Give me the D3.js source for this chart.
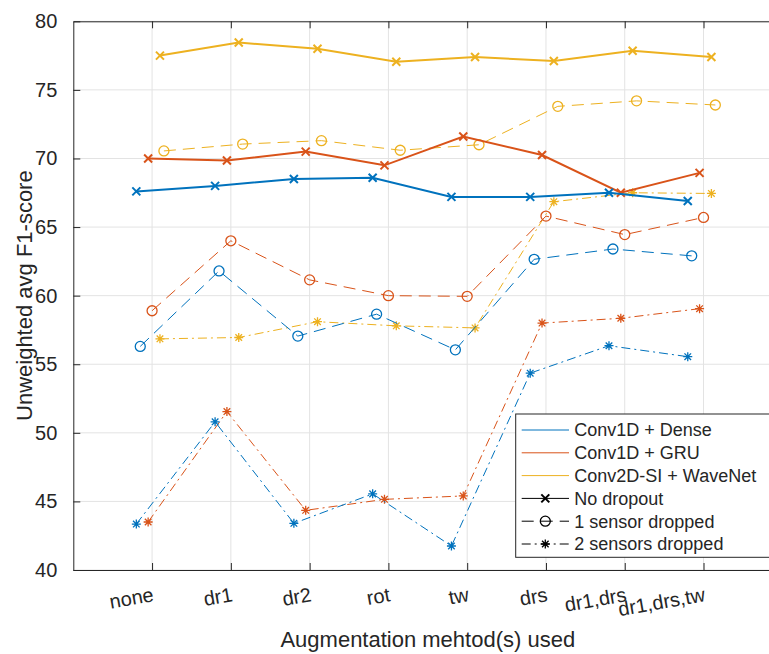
<!DOCTYPE html>
<html>
<head>
<meta charset="utf-8">
<script src="https://cdn.jsdelivr.net/npm/d3@7"></script>
<style>
  body { margin: 0; background: #fff; }
  svg text { font-family: "Liberation Sans", Arial, Helvetica, sans-serif; fill: #262626; }
</style>
</head>
<body>
<div id="chart"></div>
<script>
/************ Data ************/
var categories = ["none", "dr1", "dr2", "rot", "tw", "drs", "dr1,drs", "dr1,drs,tw"];
var models = ["Conv1D + Dense", "Conv1D + GRU", "Conv2D-SI + WaveNet"];
var dropouts = ["No dropout", "1 sensor dropped", "2 sensors dropped"];
var yTicks = [40, 45, 50, 55, 60, 65, 70, 75, 80];

// no dropout
var denseNoDrop = [67.6, 68.0, 68.5, 68.6, 67.2, 67.2, 67.5, 66.9];
var gruNoDrop   = [70.0, 69.85, 70.5, 69.5, 71.6, 70.25, 67.5, 68.95];
var waveNoDrop  = [77.5, 78.45, 78.0, 77.05, 77.4, 77.1, 77.85, 77.4];
// 1 sensor dropped
var denseOne = [56.3, 61.8, 57.05, 58.65, 56.05, 62.65, 63.4, 62.9];
var gruOne   = [58.9, 64.0, 61.15, 60.0, 59.95, 65.8, 64.45, 65.7];
var waveOne  = [70.55, 71.05, 71.3, 70.6, 71.0, 73.8, 74.2, 73.9];
// 2 sensors dropped
var denseTwo = [43.35, 50.8, 43.4, 45.55, 41.75, 54.35, 56.35, 55.55];
var gruTwo   = [43.5, 51.55, 44.35, 45.15, 45.4, 58.0, 58.35, 59.05];
var waveTwo  = [56.85, 56.95, 58.1, 57.8, 57.65, 66.85, 67.5, 67.45];

// horizontal shift of each series, in category units
var shiftNoDrop = [-0.2, -0.05, 0.1];
var shiftOne    = [-0.15, 0, 0.15];
var shiftTwo    = [-0.2, -0.05, 0.1];

/************ Styles ************/
var modelColors = ["#0072BD", "#D95319", "#EDB120"];
var chartWidth = 769, chartHeight = 654;
var plotLeft = 73.3, plotTop = 21.3, plotBottom = 570, plotRight = 782.3;
var axisColor = "#262626", gridColor = "#e3e3e3";

var dropStyles = [
  { dash: null,      lw: 2, marker: "x" },
  { dash: "12,7",    lw: 1, marker: "o" },
  { dash: "9,4,2,4", lw: 1, marker: "*" }
];

var series = [
  { values: waveTwo,   model: 2, drop: 2, shift: shiftTwo[2] },
  { values: gruTwo,    model: 1, drop: 2, shift: shiftTwo[1] },
  { values: denseTwo,  model: 0, drop: 2, shift: shiftTwo[0] },
  { values: waveOne,   model: 2, drop: 1, shift: shiftOne[2] },
  { values: gruOne,    model: 1, drop: 1, shift: shiftOne[1] },
  { values: denseOne,  model: 0, drop: 1, shift: shiftOne[0] },
  { values: waveNoDrop,  model: 2, drop: 0, shift: shiftNoDrop[2] },
  { values: gruNoDrop,   model: 1, drop: 0, shift: shiftNoDrop[1] },
  { values: denseNoDrop, model: 0, drop: 0, shift: shiftNoDrop[0] }
];

/************ Scales ************/
var x = d3.scaleLinear().domain([0, categories.length + 1]).range([plotLeft, plotRight]);
var y = d3.scaleLinear().domain([40, 80]).range([plotBottom, plotTop]);

function xPos(i, shift) { return x(i + 1 + shift); }

var svg = d3.select("#chart").append("svg")
  .attr("width", chartWidth)
  .attr("height", chartHeight)
  .style("display", "block");

svg.append("rect").attr("width", chartWidth).attr("height", chartHeight).attr("fill", "#fff");

// grid
var grid = svg.append("g");
grid.selectAll(".gy").data(yTicks).enter().append("line")
  .attr("x1", plotLeft).attr("x2", plotRight)
  .attr("y1", function(d) { return y(d); }).attr("y2", function(d) { return y(d); })
  .attr("stroke", gridColor).attr("stroke-width", 1);
grid.selectAll(".gx").data(categories).enter().append("line")
  .attr("x1", function(d, i) { return x(i + 1); }).attr("x2", function(d, i) { return x(i + 1); })
  .attr("y1", plotTop).attr("y2", plotBottom)
  .attr("stroke", gridColor).attr("stroke-width", 1);

/************ Axes ************/
var catIdx = categories.map(function(d, i) { return i + 1; });

var yAxis = svg.append("g")
  .attr("transform", "translate(" + plotLeft + ",0)")
  .call(d3.axisLeft(y).tickValues(yTicks).tickSizeInner(-7).tickSizeOuter(0).tickPadding(16));
yAxis.selectAll("text").attr("font-size", "20px").attr("fill", axisColor);

var xAxis = svg.append("g")
  .attr("transform", "translate(0," + plotBottom + ")")
  .call(d3.axisBottom(x).tickValues(catIdx).tickSizeInner(-7).tickSizeOuter(0)
    .tickFormat(function(d) { return categories[d - 1]; }));
xAxis.selectAll("text")
  .attr("font-size", "20px")
  .attr("text-anchor", "end")
  .attr("x", 2).attr("y", 31).attr("dy", null)
  .attr("transform", "rotate(-10,2,31)");

var topAxis = svg.append("g")
  .attr("transform", "translate(0," + plotTop + ")")
  .call(d3.axisTop(x).tickValues(catIdx).tickSizeInner(-7).tickSizeOuter(0).tickFormat(""));

svg.selectAll(".domain").attr("stroke", axisColor).attr("stroke-width", 1);
svg.selectAll(".tick line").attr("stroke", axisColor).attr("stroke-width", 1);

/************ Markers ************/
function drawMarker(g, type, color, cx, cy) {
  if (type === "o") {
    g.append("circle").attr("cx", cx).attr("cy", cy).attr("r", 5)
      .attr("fill", "none").attr("stroke", color).attr("stroke-width", 1.3);
  } else if (type === "x") {
    g.append("path").attr("transform", "translate(" + cx + "," + cy + ")")
      .attr("d", "M-4,-4L4,4M-4,4L4,-4")
      .attr("stroke", color).attr("stroke-width", 2).attr("fill", "none");
  } else {
    g.append("path").attr("transform", "translate(" + cx + "," + cy + ")")
      .attr("d", "M-4.5,0L4.5,0M0,-4.5L0,4.5M-3.3,-3.3L3.3,3.3M-3.3,3.3L3.3,-3.3")
      .attr("stroke", color).attr("stroke-width", 1.3).attr("fill", "none");
  }
}

/************ Series ************/
var line = d3.line();
var plot = svg.append("g");

series.forEach(function(s) {
  var color = modelColors[s.model];
  var st = dropStyles[s.drop];
  var pts = s.values.map(function(v, i) { return [xPos(i, s.shift), y(v)]; });
  plot.append("path")
    .attr("d", line(pts))
    .attr("fill", "none")
    .attr("stroke", color)
    .attr("stroke-width", st.lw)
    .attr("stroke-dasharray", st.dash);
  pts.forEach(function(p) { drawMarker(plot, st.marker, color, p[0], p[1]); });
});

/************ Labels ************/
svg.append("text")
  .attr("x", (plotLeft + plotRight) / 2)
  .attr("y", 647)
  .attr("text-anchor", "middle")
  .attr("font-size", "22px")
  .text("Augmentation mehtod(s) used");

svg.append("text")
  .attr("transform", "translate(32," + ((plotTop + plotBottom) / 2) + ") rotate(-90)")
  .attr("text-anchor", "middle")
  .attr("font-size", "22px")
  .text("Unweighted avg F1-score");

/************ Legend ************/
var legend = svg.append("g").attr("transform", "translate(515.7,414)");
legend.append("rect")
  .attr("width", 300).attr("height", 143.3)
  .attr("fill", "#fff").attr("stroke", axisColor).attr("stroke-width", 1);

var legendRows = models.map(function(m, i) { return { label: m, color: modelColors[i], style: null }; })
  .concat(dropouts.map(function(d, i) { return { label: d, color: "#000", style: dropStyles[i] }; }));

legendRows.forEach(function(r, i) {
  var ry = 16 + i * 22.8;
  legend.append("line")
    .attr("x1", 6).attr("x2", 53.3).attr("y1", ry).attr("y2", ry)
    .attr("stroke", r.color).attr("stroke-width", 1)
    .attr("stroke-dasharray", r.style ? r.style.dash : null);
  if (r.style) drawMarker(legend, r.style.marker, r.color, 29.6, ry);
  legend.append("text")
    .attr("x", 58.6).attr("y", ry).attr("dy", "0.35em")
    .attr("font-size", "18px")
    .text(r.label);
});
</script>
</body>
</html>
